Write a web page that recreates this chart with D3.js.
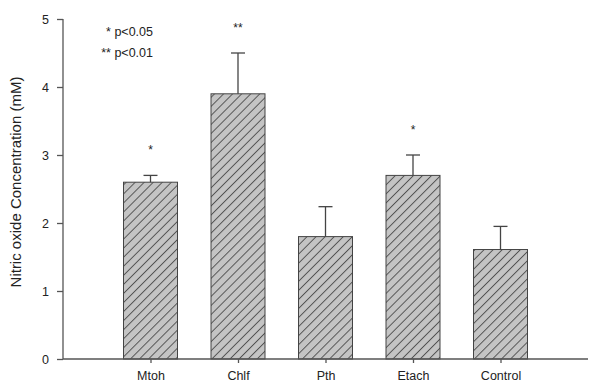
<!DOCTYPE html>
<html>
<head>
<meta charset="utf-8">
<script src="https://cdn.jsdelivr.net/npm/d3@7"></script>
<style>
  body { margin: 0; background: #fff; }
  text { font-family: "Liberation Sans", Arial, sans-serif; fill: #222; }
</style>
</head>
<body>
<svg width="590" height="385"></svg>
<script>
// data
let groups = ['Mtoh', 'Chlf', 'Pth', 'Etach', 'Control'];
let means = [2.6, 3.9, 1.8, 2.7, 1.61];
let errTops = [2.7, 4.5, 2.24, 3.0, 1.95];
let marks = ['*', '**', '', '*', ''];
let yTicks = [0, 1, 2, 3, 4, 5];
let legendLines = ['* p<0.05', '** p<0.01'];

let svg = d3.select('svg');
let padLeft = 63, padRight = 588, padTop = 19, padBottom = 359;
let barW = 54;

let xScale = d3.scalePoint()
    .domain(groups)
    .range([padLeft, padRight])
    .padding(1);

let yScale = d3.scaleLinear()
    .domain([0, 5])
    .range([padBottom, padTop]);

// hatch pattern
let hs = 6.4;
let defs = svg.append('defs');
let pat = defs.append('pattern')
    .attr('id', 'hatch')
    .attr('patternUnits', 'userSpaceOnUse')
    .attr('width', hs)
    .attr('height', hs)
    .attr('patternTransform', 'rotate(45)');
pat.append('rect').attr('width', hs).attr('height', hs).attr('fill', '#c4c4c4');
pat.append('line')
    .attr('x1', 0.5).attr('y1', 0).attr('x2', 0.5).attr('y2', hs)
    .attr('stroke', '#4a4a4a').attr('stroke-width', 0.9);

// bars
svg.selectAll('rect.bar')
    .data(groups)
    .enter()
    .append('rect')
    .attr('class', 'bar')
    .attr('x', d => xScale(d) - barW / 2)
    .attr('y', (d, i) => yScale(means[i]))
    .attr('width', barW)
    .attr('height', (d, i) => yScale(0) - yScale(means[i]))
    .attr('fill', 'url(#hatch)')
    .attr('stroke', '#444')
    .attr('stroke-width', 1);

// error bars
let eb = svg.selectAll('g.err')
    .data(groups)
    .enter()
    .append('g')
    .attr('class', 'err')
    .attr('stroke', '#444')
    .attr('stroke-width', 1.3);
eb.append('line')
    .attr('x1', d => xScale(d)).attr('x2', d => xScale(d))
    .attr('y1', (d, i) => yScale(means[i]))
    .attr('y2', (d, i) => yScale(errTops[i]));
eb.append('line')
    .attr('x1', d => xScale(d) - 7).attr('x2', d => xScale(d) + 7)
    .attr('y1', (d, i) => yScale(errTops[i]))
    .attr('y2', (d, i) => yScale(errTops[i]));

// significance marks
svg.selectAll('text.sig')
    .data(groups)
    .enter()
    .append('text')
    .attr('class', 'sig')
    .attr('x', d => xScale(d))
    .attr('y', (d, i) => yScale(errTops[i]) - 21)
    .attr('text-anchor', 'middle')
    .attr('font-size', 12)
    .text((d, i) => marks[i]);

// axes
let xAxis = d3.axisBottom(xScale).tickSize(4).tickPadding(8);
let yAxis = d3.axisLeft(yScale).tickValues(yTicks).tickFormat(d3.format('d')).tickSize(6).tickPadding(8);

let gx = svg.append('g')
    .attr('transform', 'translate(0,' + padBottom + ')')
    .call(xAxis);
gx.select('.domain').attr('d', 'M' + padLeft + ',0H' + padRight);

let gy = svg.append('g')
    .attr('transform', 'translate(' + padLeft + ',0)')
    .call(yAxis);
gy.select('.domain').attr('d', 'M0,' + padTop + 'V' + padBottom);

svg.selectAll('.domain, .tick line').attr('stroke', '#555').attr('stroke-width', 1.3);
svg.selectAll('.tick text').attr('font-size', 12.5).attr('fill', '#222')
    .style('font-family', '"Liberation Sans", Arial, sans-serif');

// y label
svg.append('text')
    .attr('transform', 'translate(21,182) rotate(-90)')
    .attr('text-anchor', 'middle')
    .attr('font-size', 15)
    .text('Nitric oxide Concentration (mM)');

// legend
svg.selectAll('text.leg')
    .data(legendLines)
    .enter()
    .append('text')
    .attr('class', 'leg')
    .attr('x', 153)
    .attr('y', (d, i) => 36 + i * 21)
    .attr('text-anchor', 'end')
    .attr('font-size', 12.5)
    .text(d => d);
</script>
</body>
</html>
